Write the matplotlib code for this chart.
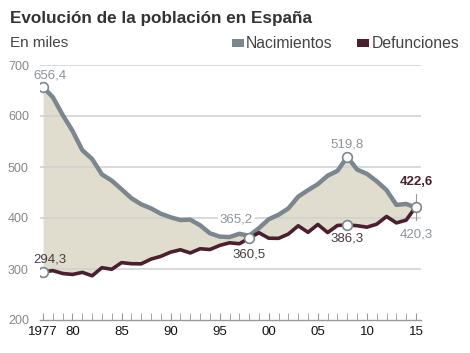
import matplotlib
matplotlib.use("Agg")
import matplotlib.pyplot as plt
from matplotlib.patches import Rectangle

years = list(range(1977, 2016))
nacimientos = [656.4, 636.9, 602.0, 571.0, 533.0, 515.7, 485.4, 473.3, 456.3, 438.8,
               426.8, 418.9, 408.4, 401.4, 396.0, 396.7, 385.8, 370.1, 363.5, 362.6,
               369.0, 365.2, 380.1, 397.6, 406.4, 418.8, 441.9, 454.6, 466.4, 483.0,
               492.5, 519.8, 495.0, 486.6, 472.0, 454.6, 425.7, 427.6, 420.3]
defunciones = [294.3, 296.8, 291.2, 289.3, 293.4, 286.7, 302.6, 299.4, 312.5, 310.4,
               310.1, 319.4, 324.8, 333.1, 337.7, 331.5, 339.7, 338.2, 346.2, 351.4,
               349.5, 360.5, 371.1, 360.4, 360.1, 368.6, 384.8, 371.9, 387.4, 371.5,
               385.4, 386.3, 384.9, 382.0, 387.9, 403.0, 390.4, 395.8, 422.6]
y_ticks = [200, 300, 400, 500, 600, 700]
x_labels = {1977: "1977", 1980: "80", 1985: "85", 1990: "90", 1995: "95",
            2000: "00", 2005: "05", 2010: "10", 2015: "15"}

C_NAC = "#7b868f"
C_DEF = "#4b1f2d"
C_FILL = "#e0ddcf"
C_GRID = "#cfcfcf"
C_TXT_G = "#8c949b"
C_TXT_D = "#4a3a40"

plt.rcParams['font.family'] = ['Liberation Sans', 'DejaVu Sans']

W, H = 470, 353
fig = plt.figure(figsize=(W / 100, H / 100), dpi=100)
ax = fig.add_axes([40 / W, 1 - 320 / H, (421 - 40) / W, (320 - 65) / H])
ax.set_xlim(1976.69, 2015.51)
ax.set_ylim(200, 700)

for v in y_ticks[1:]:
    ax.axhline(v, color=C_GRID, lw=1.1, zorder=1)

ax.fill_between(years, defunciones, nacimientos, color=C_FILL, lw=0, zorder=0.5)
ax.plot(years, nacimientos, color=C_NAC, lw=3.2, solid_joinstyle='round', zorder=3)
ax.plot(years, defunciones, color=C_DEF, lw=2.6, solid_joinstyle='round', zorder=3)

for s in ['top', 'right', 'left']:
    ax.spines[s].set_visible(False)
ax.spines['bottom'].set_color('#999999')
ax.spines['bottom'].set_linewidth(1)

ax.set_yticks(y_ticks)
ax.set_yticklabels([str(v) for v in y_ticks])
ax.tick_params(axis='y', length=0, pad=8, labelsize=9, labelcolor='#888888')
ax.set_xticks(list(x_labels.keys()))
ax.set_xticklabels(list(x_labels.values()))
ax.set_xticks(years, minor=True)
ax.tick_params(axis='x', which='both', direction='in', length=5, color='#999999',
               labelsize=9.5, labelcolor='#111111', pad=4)

# markers
mk = dict(marker='o', ms=7, mfc='white', mew=1.2, zorder=5, ls='none')
i98 = years.index(1998)
i08 = years.index(2008)
ax.plot([years[0]], [nacimientos[0]], mec=C_NAC, **mk)
ax.plot([years[0]], [defunciones[0]], mec=C_NAC, **mk)
ax.plot([years[i98]], [defunciones[i98]], mec=C_NAC, **mk)
ax.plot([years[i08]], [nacimientos[i08]], mec=C_NAC, **mk)
ax.plot([years[i08]], [defunciones[i08]], mec=C_NAC, **mk)
ax.plot([years[-1]], [(nacimientos[-1] + defunciones[-1]) / 2], mec=C_NAC, **mk)

def fmt(v):
    return f"{v:.1f}".replace('.', ',')

fs = 9.5
ax.annotate(fmt(nacimientos[0]), (years[0], nacimientos[0]), xytext=(7, 12),
            textcoords='offset pixels', ha='center', va='center', fontsize=fs, color=C_TXT_G)
ax.annotate(fmt(defunciones[0]), (years[0], defunciones[0]), xytext=(7, 12),
            textcoords='offset pixels', ha='center', va='center', fontsize=fs, color=C_TXT_D)
ax.annotate(fmt(nacimientos[i98]), (years[i98], nacimientos[i98]), xytext=(-13, 16),
            textcoords='offset pixels', ha='center', va='center', fontsize=fs, color=C_TXT_G,
            bbox=dict(boxstyle='square,pad=0.15', fc='white', ec='none'), zorder=2)
ax.annotate(fmt(defunciones[i98]), (years[i98], defunciones[i98]), xytext=(0, -16),
            textcoords='offset pixels', ha='center', va='center', fontsize=fs, color=C_TXT_D)
ax.annotate(fmt(nacimientos[i08]), (years[i08], nacimientos[i08]), xytext=(0, 12),
            textcoords='offset pixels', ha='center', va='center', fontsize=fs, color=C_TXT_G)
ax.annotate(fmt(defunciones[i08]), (years[i08], defunciones[i08]), xytext=(0, -14),
            textcoords='offset pixels', ha='center', va='center', fontsize=fs, color=C_TXT_D)
ax.plot([years[-1], years[-1]], [defunciones[-1] + 5, defunciones[-1] + 25], color='#999999', lw=0.8, zorder=4)
ax.plot([years[-1], years[-1]], [nacimientos[-1] - 5, nacimientos[-1] - 25], color='#999999', lw=0.8, zorder=4)
ax.annotate(fmt(defunciones[-1]), (years[-1], defunciones[-1]), xytext=(0, 24),
            textcoords='offset pixels', ha='center', va='center', fontsize=fs,
            color=C_DEF, fontweight='bold', annotation_clip=False)
ax.annotate(fmt(nacimientos[-1]), (years[-1], nacimientos[-1]), xytext=(0, -27),
            textcoords='offset pixels', ha='center', va='center', fontsize=fs,
            color=C_TXT_G, annotation_clip=False)

# titles
fig.text(10 / W, 1 - 19 / H, "Evolución de la población en España", fontsize=12.3,
         fontweight='bold', color='#333333', ha='left', va='center')
fig.text(10 / W, 1 - 43 / H, "En miles", fontsize=11, color='#444444', ha='left', va='center')

# legend
fig.patches.append(Rectangle((232 / W, 1 - 47 / H), 12 / W, 8 / H, transform=fig.transFigure,
                             fc=C_NAC, ec='none'))
fig.text(246 / W, 1 - 43 / H, "Nacimientos", fontsize=11.3, color='#444444', ha='left', va='center')
fig.patches.append(Rectangle((357 / W, 1 - 47 / H), 12 / W, 8 / H, transform=fig.transFigure,
                             fc=C_DEF, ec='none'))
fig.text(372 / W, 1 - 43 / H, "Defunciones", fontsize=11.3, color='#444444', ha='left', va='center')

fig.savefig("out.png", dpi=100)
